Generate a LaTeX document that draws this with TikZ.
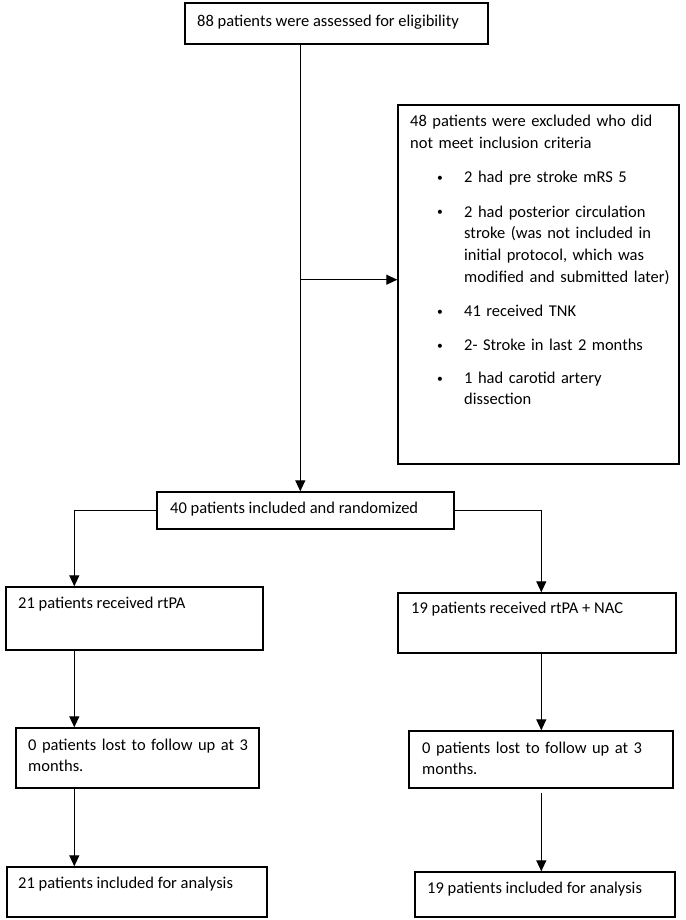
\documentclass[tikz,border=0pt]{standalone}
\usepackage{fontspec}
\usepackage{graphicx}
\setmainfont{Carlito}
\usetikzlibrary{arrows.meta,calc}
\tikzset{
  box/.style={draw=black, line width=1.4pt, inner sep=0pt, fill=none},
  txt/.style={inner sep=0pt, anchor=base west, font=\fontsize{16.5}{21.7}\selectfont, align=left},
  arr/.style={line width=1.2pt, -{Triangle[length=11pt,width=10pt]}},
  ln/.style={line width=1.2pt}
}
\newcommand{\boxat}[5]{% name, x1, y1, x2, y2
  \node[box, minimum width={#4-#2}, minimum height={#5-#3}] (#1) at ({(#2+#4)/2},{(#3+#5)/2}) {};}
\newcommand{\blt}{\hspace*{27pt}\makebox[27pt][l]{\raisebox{1.2pt}{\scalebox{0.7}{•}}}}
\begin{document}
\begin{tikzpicture}[x=1pt,y=-1pt]
\useasboundingbox (0,0) rectangle (685,920);
\fill[white] (0,0) rectangle (685,920);

% boxes
\boxat{top}{185}{3}{488}{44}
\boxat{excl}{398}{105}{679}{464}
\boxat{rand}{157}{492}{454}{529}
\boxat{armA}{6}{587}{263}{650}
\boxat{armB}{398}{593}{676}{653}
\boxat{lostA}{16}{728}{259}{788}
\boxat{lostB}{409}{731}{673}{788}
\boxat{anaA}{7}{867}{267}{917}
\boxat{anaB}{415}{872}{675}{917}

% texts
\node[txt] (ttop) at (197,27) {88 patients were assessed for eligibility};
\node[txt, text width=265pt] (texcl) at (410,127) {48 patients were excluded who did\\
not meet inclusion criteria\\[12.5pt]
\blt 2 had pre stroke mRS 5\\[12.5pt]
\blt 2 had posterior circulation\\
\hspace*{54pt}stroke (was not included in\\
\hspace*{54pt}initial protocol, which was\\
\hspace*{54pt}modified and submitted later)\\[12.5pt]
\blt 41 received TNK\\[12.5pt]
\blt 2- Stroke in last 2 months\\[11pt]
\blt 1 had carotid artery\\
\hspace*{54pt}dissection};
\node[txt] (trand) at (170,513) {40 patients included and randomized};
\node[txt] (tarmA) at (18,608) {21 patients received rtPA};
\node[txt] (tarmB) at (411,613) {19 patients received rtPA + NAC};
\node[txt, text width=235pt] (tlostA) at (28,750) {0 patients lost to follow up at 3\\months.};
\node[txt, text width=245pt] (tlostB) at (422,753) {0 patients lost to follow up at 3\\months.};
\node[txt] (tanaA) at (18,888) {21 patients included for analysis};
\node[txt] (tanaB) at (427,893) {19 patients included for analysis};

% connector coordinates
\coordinate (trunk) at ($(top.south west)+(116,0)$);
\coordinate (branch) at ($(trunk)+(0,235)$);
\coordinate (colA) at ($(armA.north west)+(69,0)$);
\coordinate (colB) at ($(armB.north west)+(144,0)$);

% connectors
\draw[arr] (trunk) -- (trunk |- rand.north);
\draw[arr] (branch) -- (branch -| excl.west);
\draw[arr] (rand.west) -| (colA);
\draw[arr] (rand.east) -| (colB);
\draw[arr] (colA |- armA.south) -- (colA |- lostA.north);
\draw[arr] (colA |- lostA.south) -- (colA |- anaA.north);
\draw[arr] (colB |- armB.south) -- (colB |- lostB.north);
\draw[arr] ($(colB |- lostB.south)+(0,4)$) -- (colB |- anaB.north);
\end{tikzpicture}
\end{document}
